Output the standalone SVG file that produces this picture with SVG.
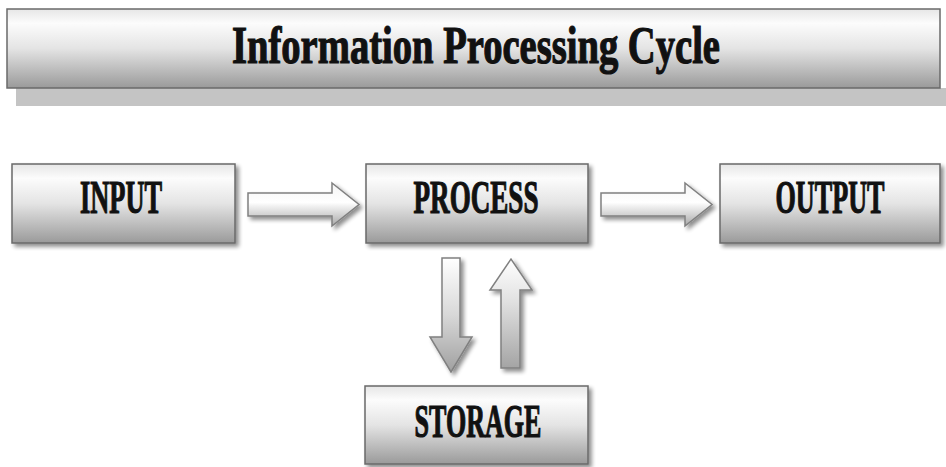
<svg xmlns="http://www.w3.org/2000/svg" width="946" height="467" viewBox="0 0 946 467">
<defs>
<linearGradient id="boxGrad" x1="0" y1="0" x2="0" y2="1">
<stop offset="0" stop-color="#e6e6e6"/>
<stop offset="0.18" stop-color="#fcfcfc"/>
<stop offset="0.5" stop-color="#e4e4e4"/>
<stop offset="1" stop-color="#9a9a9a"/>
</linearGradient>
<linearGradient id="arrGrad" x1="0" y1="0" x2="0" y2="1">
<stop offset="0" stop-color="#f4f4f4"/>
<stop offset="0.45" stop-color="#ffffff"/>
<stop offset="1" stop-color="#a8a8a8"/>
</linearGradient>
<linearGradient id="vGrad" x1="0" y1="0" x2="0" y2="1">
<stop offset="0" stop-color="#ffffff"/>
<stop offset="0.5" stop-color="#d8d8d8"/>
<stop offset="1" stop-color="#a0a0a0"/>
</linearGradient>
<linearGradient id="uGrad" x1="0" y1="0" x2="0" y2="1">
<stop offset="0" stop-color="#ffffff"/>
<stop offset="0.4" stop-color="#e0e0e0"/>
<stop offset="1" stop-color="#a4a4a4"/>
</linearGradient>
<filter id="sh" x="-10%" y="-10%" width="130%" height="140%">
<feGaussianBlur in="SourceAlpha" stdDeviation="2"/>
<feOffset dx="3" dy="3" result="b"/>
<feComponentTransfer><feFuncA type="linear" slope="0.45"/></feComponentTransfer>
<feMerge><feMergeNode/><feMergeNode in="SourceGraphic"/></feMerge>
</filter>
</defs>
<style>
.box{fill:url(#boxGrad);stroke:#6a6a6a;stroke-width:1.5}
.lbl{font-family:"Liberation Serif","DejaVu Serif",serif;font-weight:bold;fill:#111;stroke:#111;stroke-width:1.2;text-anchor:middle}
.arr{fill:url(#arrGrad);stroke:#808080;stroke-width:1.5;stroke-linejoin:miter}
</style>
<rect width="946" height="467" fill="#ffffff"/>
<g id="title">
<rect x="16" y="88" width="930" height="18" fill="#c4c4c4"/>
<rect class="box" x="7" y="9" width="933" height="79"/>
<text class="lbl" x="476" y="63" font-size="52" textLength="488" lengthAdjust="spacingAndGlyphs">Information Processing Cycle</text>
</g>
<g id="input">
<rect class="box" x="12" y="164" width="223" height="79" filter="url(#sh)"/>
<text class="lbl" x="121" y="213" font-size="46" textLength="82" lengthAdjust="spacingAndGlyphs">INPUT</text>
</g>
<g id="process">
<rect class="box" x="366" y="164" width="222" height="79" filter="url(#sh)"/>
<text class="lbl" x="476" y="213" font-size="46" textLength="125" lengthAdjust="spacingAndGlyphs">PROCESS</text>
</g>
<g id="output">
<rect class="box" x="720" y="164" width="220" height="79" filter="url(#sh)"/>
<text class="lbl" x="830" y="213" font-size="46" textLength="109" lengthAdjust="spacingAndGlyphs">OUTPUT</text>
</g>
<g id="storage">
<rect class="box" x="365" y="386" width="223" height="78" filter="url(#sh)"/>
<text class="lbl" x="478" y="437" font-size="46" textLength="127" lengthAdjust="spacingAndGlyphs">STORAGE</text>
</g>
<g id="connectors" filter="url(#sh)">
<path class="arr" d="M248 193 H332 V183 L359 204.5 L332 226 V216 H248 Z"/>
<path class="arr" d="M601 193 H685 V183 L712 204.5 L685 226 V216 H601 Z"/>
<path class="arr" style="fill:url(#vGrad)" d="M442 258 H460 V337 H472 L451 372 L430 337 H442 Z"/>
<path class="arr" style="fill:url(#uGrad)" d="M501 368 H520 V290 H532 L511 259 L490 290 H501 Z"/>
</g>
</svg>
